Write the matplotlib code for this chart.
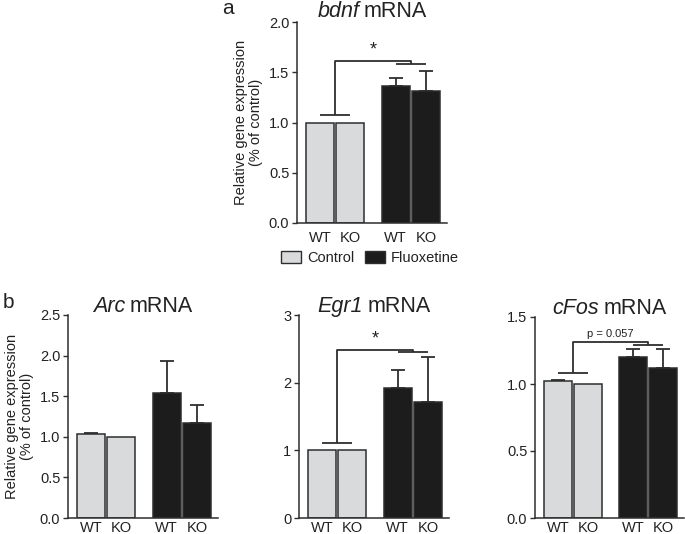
import matplotlib
matplotlib.use("Agg")
import matplotlib.pyplot as plt
from matplotlib.patches import Patch

plt.rcParams['font.family'] = ['Liberation Sans', 'DejaVu Sans']

# ---- data ----
genes = ["bdnf", "Arc", "Egr1", "cFos"]
group_labels = ["Control", "Fluoxetine"]
tick_labels = ["WT", "KO", "WT", "KO"]

bdnf_means = [1.00, 1.00, 1.365, 1.315]
bdnf_errs = [0.0, 0.0, 0.08, 0.20]
arc_means = [1.03, 1.00, 1.54, 1.17]
arc_errs = [0.02, 0.0, 0.39, 0.22]
egr1_means = [1.00, 1.00, 1.92, 1.72]
egr1_errs = [0.0, 0.0, 0.27, 0.66]
cfos_means = [1.02, 1.00, 1.205, 1.123]
cfos_errs = [0.01, 0.0, 0.055, 0.14]

# bracket levels: (control line, fluoxetine line, top of bracket)
bdnf_bracket = [1.075, 1.58, 1.615]
egr1_bracket = [1.11, 2.45, 2.49]
cfos_bracket = [1.08, 1.292, 1.316]

ylims = {"bdnf": (0, 2.0), "Arc": (0, 2.5), "Egr1": (0, 3), "cFos": (0, 1.5)}
yticks = {"bdnf": [0.0, 0.5, 1.0, 1.5, 2.0],
          "Arc": [0.0, 0.5, 1.0, 1.5, 2.0, 2.5],
          "Egr1": [0, 1, 2, 3],
          "cFos": [0.0, 0.5, 1.0, 1.5]}
ytickfmt = {"bdnf": "{:.1f}", "Arc": "{:.1f}", "Egr1": "{:d}", "cFos": "{:.1f}"}

# ---- style ----
light = "#d9dadc"
dark = "#1c1c1c"
edge = "#2e2e2e"
txt = "#222222"
xpos = [0, 1, 2.5, 3.5]
width = 0.93
colors = [light, light, dark, dark]

fig = plt.figure(figsize=(6.85, 5.34), dpi=100)
W, H = 685, 534
renderer = fig.canvas.get_renderer()


def axes_px(left, top, right, bottom):
    return fig.add_axes([left / W, 1 - bottom / H, (right - left) / W, (bottom - top) / H])


def title(ax, name, fs=15.5, gap_px=4, lift_px=3):
    # italic gene name followed by upright "mRNA", centred over the axes
    bb = ax.get_position()
    cx = (bb.x0 + bb.x1) / 2
    y = bb.y1 + lift_px / H
    t1 = fig.text(0, y, name, fontsize=fs, style='italic', color=txt, va='baseline', ha='left')
    t2 = fig.text(0, y, "mRNA", fontsize=fs, color=txt, va='baseline', ha='left')
    w1 = t1.get_window_extent(renderer).width
    w2 = t2.get_window_extent(renderer).width
    total = w1 + gap_px + w2
    x0 = cx * W - total / 2
    t1.set_x(x0 / W)
    t2.set_x((x0 + w1 + gap_px) / W)


def draw(ax, name, means, errs, ylabel=True, xpad=5, lift_px=3):
    ax.bar(xpos, means, width=width, color=colors, edgecolor=edge, linewidth=1.1, zorder=2)
    for x, m, e in zip(xpos, means, errs):
        if e > 0:
            ax.errorbar(x, m, yerr=[[0], [e]], fmt='none', ecolor=edge, elinewidth=1.3,
                        capsize=5, capthick=1.3, zorder=1)
    ax.set_xlim(-0.77, 4.2)
    ax.set_ylim(*ylims[name])
    ax.set_yticks(yticks[name])
    ax.set_yticklabels([ytickfmt[name].format(v) for v in yticks[name]], color=txt, fontsize=10.5)
    ax.set_xticks(xpos)
    ax.set_xticklabels(tick_labels, color=txt, fontsize=10.5)
    ax.tick_params(axis='x', length=0, pad=xpad)
    ax.tick_params(axis='y', length=3.5, width=1, color=edge, pad=2)
    for s in ["top", "right"]:
        ax.spines[s].set_visible(False)
    for s in ["left", "bottom"]:
        ax.spines[s].set_color(edge)
        ax.spines[s].set_linewidth(1.1)
    title(ax, name, lift_px=lift_px)
    if ylabel:
        ax.set_ylabel("Relative gene expression\n(% of control)", fontsize=10.5, color=txt,
                      labelpad=4, linespacing=1.15)


def bracket(ax, levels, label, fs, dy):
    c, f, t = levels
    kw = dict(color=edge, lw=1.3, solid_capstyle='butt', zorder=3)
    ax.plot([xpos[0], xpos[1]], [c, c], **kw)
    ax.plot([xpos[2], xpos[3]], [f, f], **kw)
    mc = (xpos[0] + xpos[1]) / 2
    mf = (xpos[2] + xpos[3]) / 2
    ax.plot([mc, mc, mf, mf], [c, t, t, f], **kw)
    ax.text((mc + mf) / 2, t + dy, label, ha='center', va='center', fontsize=fs, color=txt)


ax_a = axes_px(297, 22, 447, 223)
draw(ax_a, "bdnf", bdnf_means, bdnf_errs, xpad=6, lift_px=5)
bracket(ax_a, bdnf_bracket, "*", 13, 0.11)

ax_arc = axes_px(68, 315, 218, 518)
draw(ax_arc, "Arc", arc_means, arc_errs, xpad=2)

ax_egr = axes_px(299, 315, 449, 518)
draw(ax_egr, "Egr1", egr1_means, egr1_errs, ylabel=False, xpad=2)
bracket(ax_egr, egr1_bracket, "*", 13, 0.16)

ax_cfos = axes_px(535, 317, 684, 518)
draw(ax_cfos, "cFos", cfos_means, cfos_errs, ylabel=False, xpad=2)
bracket(ax_cfos, cfos_bracket, "p = 0.057", 8, 0.055)

# legend
handles = [Patch(facecolor=light, edgecolor=edge, linewidth=1.0, label=group_labels[0]),
           Patch(facecolor=dark, edgecolor=edge, linewidth=1.0, label=group_labels[1])]
leg = fig.legend(handles=handles, loc='center', bbox_to_anchor=(370 / W, 1 - 258 / H), ncol=2,
                 frameon=False, fontsize=10.5, handlelength=1.4, handleheight=0.8,
                 handletextpad=0.4, columnspacing=0.7, borderpad=0)
for t in leg.get_texts():
    t.set_color(txt)

fig.text(228 / W, 1 - 8 / H, "a", fontsize=15, color=txt, ha='center', va='center')
fig.text(8 / W, 1 - 303 / H, "b", fontsize=15, color=txt, ha='center', va='center')

fig.savefig("out.png", dpi=100)
